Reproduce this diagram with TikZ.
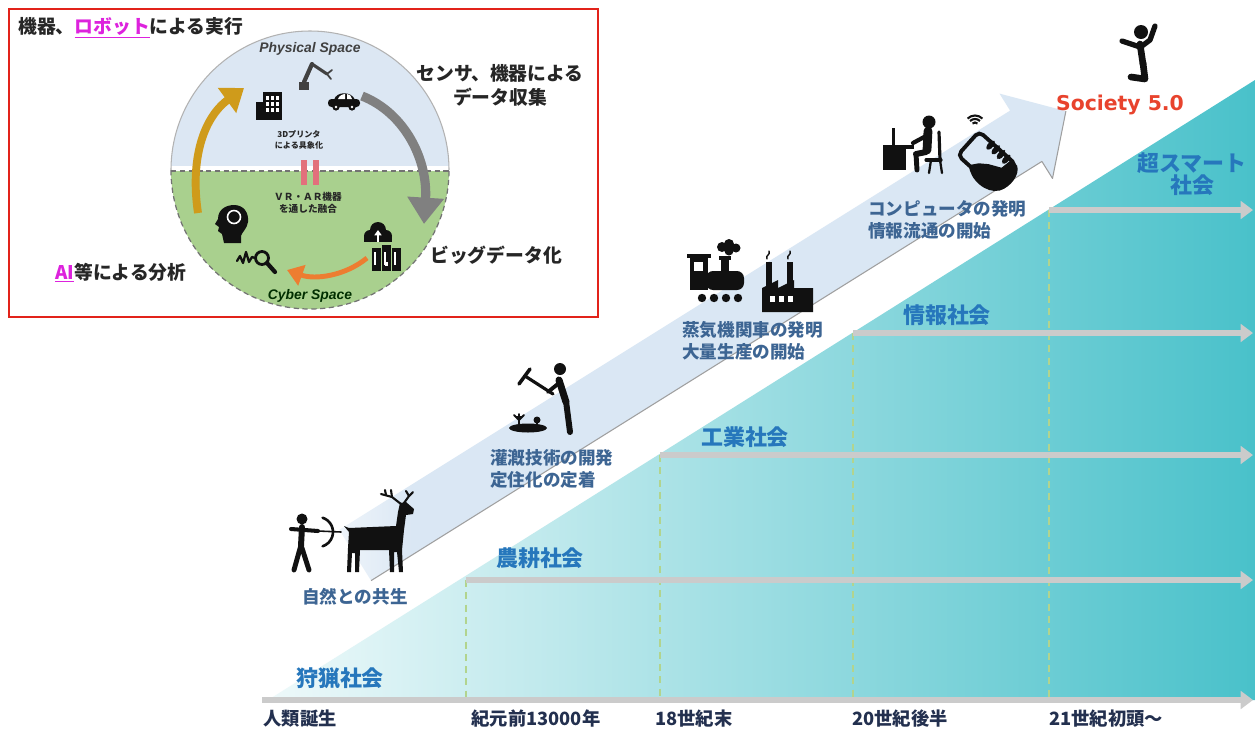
\documentclass[tikz,border=0pt]{standalone}
\usepackage{fontspec}
\usetikzlibrary{arrows.meta}
\newfontfamily\jp{Noto Sans CJK JP}
\newfontfamily\socfont{DejaVu Sans}
\newfontfamily\spacefont{Liberation Sans}
\newcommand\pxfs[2]{\fontsize{#1}{#2}\selectfont}

\definecolor{tealL}{HTML}{EEF9FA}
\definecolor{tealM}{HTML}{93D8DE}
\definecolor{tealR}{HTML}{49C1CA}
\definecolor{bandc}{HTML}{DAE7F4}
\definecolor{stepgray}{HTML}{CBCBCB}
\definecolor{dashgreen}{HTML}{B2D48E}
\definecolor{lblblue}{HTML}{2677BC}
\definecolor{descblue}{HTML}{3D6593}
\definecolor{navy}{HTML}{23304F}
\definecolor{socred}{HTML}{E8432D}
\definecolor{framered}{HTML}{E2231A}
\definecolor{physc}{HTML}{DCE7F3}
\definecolor{cyberc}{HTML}{A9D08E}
\definecolor{goldc}{HTML}{CF9B1B}
\definecolor{grayarr}{HTML}{808080}
\definecolor{orangec}{HTML}{ED7D31}
\definecolor{pinkbar}{HTML}{E2707C}
\definecolor{magentac}{HTML}{DD22DD}
\definecolor{inktext}{HTML}{262626}
\definecolor{icon}{HTML}{111111}

\pgfdeclarehorizontalshading{bandfade}{100bp}{color(0bp)=(white); color(25bp)=(white!55!bandc); color(30bp)=(bandc); color(100bp)=(bandc)}

\begin{document}
\begin{tikzpicture}[x=0.02cm,y=-0.02cm,
  stepline/.style={line width=3.6pt, draw=stepgray, -{Triangle[length=7pt,width=10pt]}},
  eradash/.style={draw=dashgreen, line width=0.7pt, dash pattern=on 4pt off 3pt},
  soclabel/.style={font=\jp\bfseries\pxfs{12.5pt}{12.5pt}, text=lblblue, inner sep=0pt, align=center},
  eralabel/.style={font=\jp\bfseries\pxfs{10.4pt}{12pt}, text=navy, inner sep=0pt},
  desc/.style={font=\jp\bfseries\pxfs{10pt}{12.4pt}, text=descblue, inner sep=0pt, align=left, anchor=west},
  insettext/.style={font=\jp\bfseries\pxfs{10.7pt}{13.5pt}, text=inktext, inner sep=0pt, align=center},
  spacelabel/.style={font=\spacefont\bfseries\itshape\pxfs{7.9pt}{8pt}, inner sep=0pt},
  smalltext/.style 2 args={font=\jp\bfseries\pxfs{#1}{#2}, text=inktext, inner sep=0pt, align=center},
  limb/.style={draw=icon, line cap=round, line join=round},
]
\useasboundingbox (0,0) rectangle (1255,731);
\fill[white] (0,0) rectangle (1255,731);

% ---------- rising staircase of societies ----------
\shade[left color=tealL, middle color=tealM, right color=tealR]
  (268,700) -- (1255,80) -- (1255,700) -- cycle;

\coordinate (base0) at (262,700);  \coordinate (end0) at (1253,700);
\coordinate (base1) at (466,580);  \coordinate (end1) at (1253,580);
\coordinate (base2) at (660,455);  \coordinate (end2) at (1253,455);
\coordinate (base3) at (853,333);  \coordinate (end3) at (1253,333);
\coordinate (base4) at (1049,210); \coordinate (end4) at (1253,210);

\foreach \k in {1,2,3,4} \draw[eradash] (base\k) -- (base\k |- base0);
\foreach \k in {0,1,2,3,4} \draw[stepline] (base\k) -- (end\k);

% ---------- big diagonal progress arrow ----------
\shade[shading=bandfade]
  (339.3,529.8) -- (1010.1,110.6) -- (999.5,93.6) -- (1065.9,111.1)
  -- (1052.5,178.4) -- (1041.9,161.4) -- (371.1,580.6) -- cycle;
\draw[gray!75, line width=0.6pt, line join=round]
  (371.1,580.6) -- (1041.9,161.4) -- (1052.5,178.4) -- (1065.9,111.1);

% ---------- society names ----------
\node[soclabel] (hunt)  at (340,678) {狩猟社会};
\node[soclabel] (agri)  at (540,558) {農耕社会};
\node[soclabel] (indu)  at (745,437) {工業社会};
\node[soclabel] (info)  at (947,315) {情報社会};
\node[soclabel] (smart) at (1192,174) {超スマート\\社会};
\node[font=\socfont\bfseries\pxfs{11.6pt}{12pt}, text=socred, inner sep=0pt] (s50) at (1120,105) {Society 5.0};

% ---------- era axis ----------
\node[eralabel] (era0) at (300,719) {人類誕生};
\node[eralabel] (era1) at (536,719) {紀元前13000年};
\node[eralabel] (era2) at (694,719) {18世紀末};
\node[eralabel] (era3) at (900,719) {20世紀後半};
\node[eralabel] (era4) at (1106,719) {21世紀初頭～};

% ---------- milestones ----------
\node[desc, anchor=center] (m0) at (355,597) {自然との共生};
\node[desc] (m1) at (490,469) {灌漑技術の開発\\定住化の定着};
\node[desc] (m2) at (682,341) {蒸気機関車の発明\\大量生産の開始};
\node[desc] (m3) at (868,220) {コンピュータの発明\\情報流通の開始};

% ---------- icons: hunter and deer ----------
\fill[icon] (302,519) circle (5.5);
\draw[limb, line width=3.4pt] (302,527) -- (301,546);
\draw[limb, line width=2.8pt] (301,545) -- (294,570);
\draw[limb, line width=2.8pt] (301,545) -- (309,570);
\draw[limb, line width=2.3pt] (291,529) -- (318,531);
\draw[limb, line width=0.9pt] (318,531) -- (341,532);
\draw[limb, line width=1.5pt] (318,532) ++(-72:15) arc[start angle=-72, end angle=72, radius=15];
\fill[icon] (344,526) -- (349,528) -- (396,526) -- (398,512) -- (400,503) -- (406,502)
  -- (414,509) -- (413,514) -- (406,515) -- (404,530) -- (402,550) -- (403,572)
  -- (399,572) -- (397,552) -- (394,552) -- (394,572) -- (390,572) -- (389,550)
  -- (360,550) -- (359,572) -- (355,572) -- (355,553) -- (352,553) -- (351,572)
  -- (347,572) -- (348,548) -- (349,532) -- cycle;
\draw[limb, line width=1.2pt] (401,504) -- (392,497) -- (381,494);
\draw[limb, line width=1.2pt] (392,497) -- (391,490);
\draw[limb, line width=1.2pt] (386,495) -- (385,490);
\draw[limb, line width=1.2pt] (404,503) -- (409,496) -- (413,492);
\draw[limb, line width=1.2pt] (409,496) -- (406,491);

% ---------- icons: farmer ----------
\fill[icon] (560,369) circle (6);
\draw[limb, line width=4pt] (559,380) -- (566,402);
\draw[limb, line width=3.4pt] (566,401) -- (570,432);
\draw[limb, line width=2.2pt] (559,383) -- (548,392);
\draw[limb, line width=1.8pt] (525,376) -- (553,394);
\draw[limb, line width=2pt] (519,384) -- (530,369);
\fill[icon] (528,428) ellipse [x radius=19, y radius=4.5];
\draw[limb, line width=1.1pt] (519,425) -- (519,414) (519,420) -- (514,415) (519,420) -- (524,415) (516,417) -- (522,417);
\fill[icon] (537,420) circle (3.5);
\draw[limb, line width=1.1pt] (537,425) -- (537,420);

% ---------- icons: locomotive and factory ----------
\fill[icon] (687,254) rectangle (711,258);
\fill[icon] (690,258) rectangle (708,290);
\fill[white] (694,262) rectangle (703,271);
\fill[icon, rounded corners=4pt] (706,271) rectangle (744,290);
\fill[icon] (721,258) rectangle (729,272);
\fill[icon] (719,256) rectangle (731,260);
\fill[icon] (722,247) circle (5) (729,244) circle (5) (736,248) circle (4.5) (729,251) circle (4.5);
\foreach \wx in {702,714,726,738} \fill[icon] (\wx,298) circle (4.2);
\fill[icon] (762,312) -- (762,288) -- (778,280) -- (778,288) -- (794,280) -- (794,288)
  -- (813,288) -- (813,312) -- cycle;
\fill[icon] (766,262) rectangle (772,288);
\fill[icon] (787,262) rectangle (793,288);
\draw[limb, line width=0.8pt] (767,259) .. controls (765,255) and (771,255) .. (769,251)
  (788,259) .. controls (786,255) and (792,255) .. (790,251);
\foreach \wx in {770,779,788} \fill[white] (\wx,296) rectangle (\wx+5,302);

% ---------- icons: desk worker and smartphone ----------
\fill[icon] (892,128) rectangle (895,146);
\fill[icon] (883,145) rectangle (914,149);
\fill[icon] (883,149) rectangle (906,170);
\fill[icon] (929,122) circle (6.5);
\draw[limb, line width=5pt] (928,131) -- (927,150);
\draw[limb, line width=2.4pt] (926,136) -- (913,143);
\draw[limb, line width=3.4pt] (926,152) -- (916,154);
\draw[limb, line width=2.8pt] (916,154) -- (917,170);
\draw[limb, line width=1.8pt] (939,132) -- (940,160);
\draw[limb, line width=1.8pt] (926,160) -- (941,160);
\draw[limb, line width=1.3pt] (940,160) -- (942,173) (931,160) -- (929,173);
\begin{scope}[shift={(987,160)}, rotate=48]
  \draw[icon, line width=2.2pt, rounded corners=3pt] (-16,-25) rectangle (16,25);
  \fill[icon] (-16,-10) .. controls (-26,0) and (-26,22) .. (-14,30)
    .. controls (-4,36) and (12,34) .. (16,26) -- (16,18) -- (4,16) -- (-2,4) -- (-8,-4) -- cycle;
  \foreach \yy in {-10,-3,4,11} \fill[icon, rounded corners=2pt] (8,\yy) rectangle (19,\yy+5.5);
\end{scope}
\foreach \rr in {3.5,7,10.5}
  \draw[icon, line width=1.2pt] (975,126) ++(-135:\rr) arc[start angle=-135, end angle=-45, radius=\rr];

% ---------- icon: cheering person ----------
\fill[icon] (1141,32) circle (7);
\draw[limb, line width=3.8pt] (1140,44) -- (1143,64);
\draw[limb, line width=3pt] (1140,47) -- (1122,41);
\draw[limb, line width=3pt] (1142,46) -- (1150,40) -- (1155,26);
\draw[limb, line width=3.8pt] (1143,63) -- (1145,79) -- (1131,77);

% ---------- cyber-physical inset ----------
\draw[framered, line width=1.3pt] (9,9) rectangle (598,317);
\begin{scope}
  \clip (310,170) circle (139);
  \fill[physc] (160,20) rectangle (460,166);
  \fill[cyberc] (160,171) rectangle (460,320);
\end{scope}
\draw[gray!60, line width=0.6pt] (171,170) arc[start angle=180, end angle=360, radius=139];
\draw[gray!90!black, line width=0.7pt, dash pattern=on 3pt off 2pt]
  (171,170) arc[start angle=180, end angle=0, radius=139];
\draw[gray!90!black, line width=0.7pt, dash pattern=on 3pt off 2pt] (171,171) -- (449,171);
\fill[pinkbar] (301,160) rectangle (307,185);
\fill[pinkbar] (313,160) rectangle (319,185);

\node[spacelabel, text=black!75] (phys) at (310,49) {Physical Space};
\node[spacelabel, text=black!70!green!60!black] (cyb) at (310,296) {Cyber Space};
\node[smalltext={4.6pt}{6.7pt}] (print3d) at (299,140) {3Dプリンタ\\による具象化};
\node[smalltext={5.5pt}{6.9pt}] (vrar) at (308,203) {ＶＲ・ＡＲ機器\\を通した融合};

\node[insettext, anchor=west] (act) at (18,28) {機器、{\color{magentac}\underline{ロボット}}による実行};
\node[insettext] (sense) at (500,85) {センサ、機器による\\データ収集};
\node[insettext, anchor=west] (bigd) at (430,255) {ビッグデータ化};
\node[insettext, anchor=west] (anl) at (55,273) {{\color{magentac}\underline{AI}}等による分析};

% cycle arrows
\coordinate (goldA) at (198,213); \coordinate (goldB) at (244,88);
\coordinate (grayA) at (362,96);  \coordinate (grayB) at (424,224);
\coordinate (orA) at (367,258);   \coordinate (orB) at (287,270);
\draw[goldc, line width=4.5pt, -{Triangle[length=12pt,width=17pt]}]
  (goldA) .. controls (190,160) and (203,118) .. (goldB);
\draw[grayarr, line width=5.2pt, -{Triangle[length=15pt,width=20pt]}]
  (grayA) .. controls (405,113) and (428,160) .. (grayB);
\draw[orangec, line width=2.8pt, -{Triangle[length=9pt,width=12pt]}]
  (orA) .. controls (345,276) and (315,280) .. (orB);

% inset icons: robot arm, building, car
\fill[icon!80] (299,82) rectangle (309,90);
\draw[limb, draw=icon!80, line width=2.4pt] (304,82) -- (312,64);
\draw[limb, draw=icon!80, line width=1.8pt] (312,64) -- (327,74);
\draw[limb, draw=icon!80, line width=1pt] (327,74) -- (332,70) (327,74) -- (331,79);
\fill[icon] (263,92) rectangle (282,120);
\fill[icon] (256,102) rectangle (264,120);
\foreach \wx in {266,271,276} \foreach \wy in {96,102,108} \fill[white] (\wx,\wy) rectangle (\wx+3,\wy+3.5);
\fill[icon, rounded corners=2pt] (328,99) rectangle (360,107);
\fill[icon] (334,100) .. controls (336,91) and (352,91) .. (355,100) -- cycle;
\fill[white] (338,99) .. controls (339,95) and (344,94) .. (345,94) -- (345,99) -- cycle;
\fill[white] (347,94) .. controls (349,94) and (352,96) .. (352,99) -- (347,99) -- cycle;
\fill[icon] (336,107) circle (3.6) (352,107) circle (3.6);
\fill[white] (336,107) circle (1.4) (352,107) circle (1.4);

% inset icons: head, analysis, cloud, servers
\fill[icon] (224,243) -- (222,234) -- (218,231) -- (219,227) -- (215,224) -- (218,219)
  .. controls (218,208) and (228,205) .. (234,205)
  .. controls (244,205) and (249,213) .. (248,222)
  .. controls (247,229) and (242,232) .. (241,236) -- (241,243) -- cycle;
\draw[white, line width=0.9pt] (234,217) circle (6.5);
\draw[limb, line width=1.3pt] (237,261) -- (240,256) -- (243,263) -- (246,252) -- (249,262) -- (252,257) -- (255,258);
\draw[icon, line width=1.6pt] (262,258) circle (6.5);
\draw[limb, line width=2.4pt] (267,263) -- (275,272);
\fill[icon] (370,236) circle (6) (378,230) circle (8) (386,236) circle (6);
\fill[icon] (364,236) rectangle (392,242);
\draw[white, line width=1.2pt, -{Triangle[length=3pt,width=4pt]}] (378,242) -- (378,230);
\fill[icon] (372,248) rectangle (381,271);
\fill[icon] (382,245) rectangle (391,271);
\fill[icon] (392,248) rectangle (401,271);
\foreach \wx in {374,384,394} \fill[white] (\wx,252) rectangle (\wx+1.6,265);
\fill[white] (385,262) rectangle (388,266);
\end{tikzpicture}
\end{document}
